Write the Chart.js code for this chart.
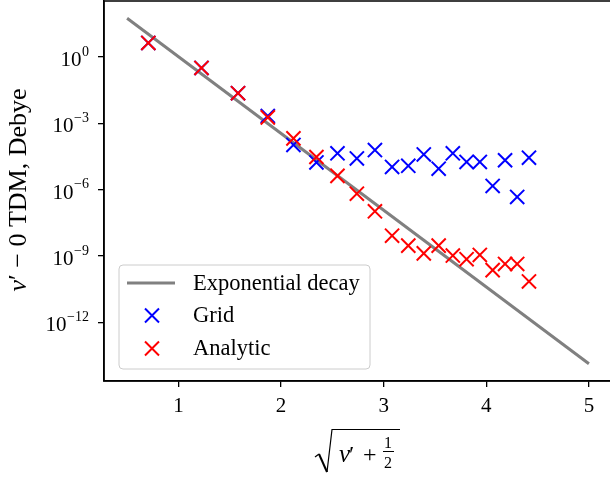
<!DOCTYPE html>
<html>
<head>
<meta charset="utf-8">
<script src="https://cdn.jsdelivr.net/npm/chart.js@4/dist/chart.umd.min.js"></script>
<style>
html,body{margin:0;padding:0;overflow:hidden;background:#fff;width:610px;height:479px}
#wrap{position:relative;width:614px;height:479px}
</style>
</head>
<body>
<div id="wrap"><canvas id="c" width="614" height="479"></canvas></div>
<script>
// sqrt(v' + 1/2) for v' = 0 .. 19
const xValues = [0.707, 1.225, 1.581, 1.871, 2.121, 2.345, 2.550, 2.739, 2.915, 3.082,
                 3.240, 3.391, 3.536, 3.674, 3.808, 3.937, 4.062, 4.183, 4.301, 4.416];
const gridValues = [4.3, 0.32, 0.023, 2.14e-3, 1.05e-4, 1.7e-5, 4.4e-5, 2.57e-5, 6.2e-5, 1.07e-5,
                    1.2e-5, 3.9e-5, 8.9e-6, 4.4e-5, 1.8e-5, 1.8e-5, 1.48e-6, 2.14e-5, 4.7e-7, 2.8e-5];
const analyticValues = [4.3, 0.32, 0.023, 1.86e-3, 2.09e-4, 3.0e-5, 4.2e-6, 6.6e-7, 1.05e-7, 8.3e-9,
                        2.95e-9, 1.32e-9, 2.95e-9, 1.05e-9, 7.2e-10, 1.12e-9, 2.3e-10, 4.4e-10, 4.4e-10, 7.1e-11];
const decayX = [0.5, 5.0];
const decayY = [56.2, 1.35e-14];
const xTicks = [1, 2, 3, 4, 5];
const yTicks = [1e0, 1e-3, 1e-6, 1e-9, 1e-12];
const yTickExponents = ['0', '\u22123', '\u22126', '\u22129', '\u221212'];
const seriesLabels = ['Exponential decay', 'Grid', 'Analytic'];

const serif = '"Liberation Serif", "Times New Roman", "DejaVu Serif", serif';

const overlay = {
  id: 'overlay',
  afterDraw(chart) {
    const ctx = chart.ctx, a = chart.chartArea, ys = chart.scales.y;
    ctx.save();
    // frame
    ctx.strokeStyle = '#000'; ctx.lineWidth = 1.5;
    ctx.strokeRect(a.left, a.top, a.right - a.left, a.bottom - a.top);

    // y tick labels 10^n
    ctx.fillStyle = '#000';
    ctx.textBaseline = 'middle';
    ys.ticks.forEach((t, i) => {
      const py = ys.getPixelForValue(t.value);
      const exp = yTickExponents[i];
      const right = 89;
      ctx.font = '14px ' + serif;
      const ew = ctx.measureText(exp).width;
      ctx.textAlign = 'left';
      ctx.fillText(exp, right - ew, py - 5);
      ctx.font = '21px ' + serif;
      ctx.textAlign = 'right';
      ctx.fillText('10', right - ew - 0.5, py + 3.5);
    });

    // y title
    ctx.save();
    ctx.translate(26, 190);
    ctx.rotate(-Math.PI / 2);
    ctx.textAlign = 'left'; ctx.textBaseline = 'alphabetic';
    const fs = 26;
    const parts = [['\u03bd', 'italic ' + fs + 'px '], ['\u2032', fs + 'px '], [' \u2212 0', fs + 'px '], [' TDM, Debye', fs + 'px ']];
    let W = 0;
    parts.forEach(p => { ctx.font = p[1] + serif; W += ctx.measureText(p[0]).width; });
    let x = -W / 2;
    parts.forEach(p => { ctx.font = p[1] + serif; ctx.fillText(p[0], x, 0); x += ctx.measureText(p[0]).width; });
    ctx.restore();

    // x title: sqrt(v' + 1/2)
    const cx = (a.left + a.right) / 2;
    const ox = cx - 359;
    ctx.strokeStyle = '#000';
    ctx.lineCap = 'butt';
    ctx.lineWidth = 1.2;
    ctx.beginPath(); ctx.moveTo(ox + 316, 457); ctx.lineTo(ox + 320, 454); ctx.stroke();
    ctx.lineWidth = 2;
    ctx.beginPath(); ctx.moveTo(ox + 320, 454); ctx.lineTo(ox + 328, 472); ctx.stroke();
    ctx.lineWidth = 1.2;
    ctx.beginPath(); ctx.moveTo(ox + 328, 472); ctx.lineTo(ox + 333, 429.5); ctx.lineTo(ox + 401, 429.5); ctx.stroke();
    ctx.textAlign = 'left'; ctx.textBaseline = 'alphabetic';
    ctx.font = 'italic 25px ' + serif;
    ctx.fillText('\u03bd', ox + 340, 462);
    let nx = ox + 340 + ctx.measureText('\u03bd').width;
    ctx.font = '24px ' + serif;
    ctx.fillText('\u2032', nx - 1, 462);
    ctx.fillText('+', ox + 364, 462);
    ctx.font = '16px ' + serif;
    ctx.textAlign = 'center';
    ctx.fillText('1', ox + 389, 448);
    ctx.fillText('2', ox + 389, 468);
    ctx.lineWidth = 1; ctx.beginPath(); ctx.moveTo(ox + 384, 451.5); ctx.lineTo(ox + 395, 451.5); ctx.stroke();

    // legend
    const lx = 119, ly = 265, lw = 251, lh = 104, r = 4;
    ctx.beginPath();
    ctx.moveTo(lx + r, ly); ctx.lineTo(lx + lw - r, ly); ctx.quadraticCurveTo(lx + lw, ly, lx + lw, ly + r);
    ctx.lineTo(lx + lw, ly + lh - r); ctx.quadraticCurveTo(lx + lw, ly + lh, lx + lw - r, ly + lh);
    ctx.lineTo(lx + r, ly + lh); ctx.quadraticCurveTo(lx, ly + lh, lx, ly + lh - r);
    ctx.lineTo(lx, ly + r); ctx.quadraticCurveTo(lx, ly, lx + r, ly);
    ctx.closePath();
    ctx.fillStyle = 'rgba(255,255,255,0.8)'; ctx.fill();
    ctx.strokeStyle = '#cccccc'; ctx.lineWidth = 1; ctx.stroke();
    const rowY = [283, 315.5, 348.5];
    const ds = chart.data.datasets;
    const byLabel = l => ds.find(d => d.label === l);
    seriesLabels.forEach((lab, i) => {
      const d = byLabel(lab), y = rowY[i];
      ctx.strokeStyle = d.borderColor; ctx.lineWidth = d.borderWidth;
      if (d.showLine) {
        ctx.beginPath(); ctx.moveTo(127, y); ctx.lineTo(175, y); ctx.stroke();
      } else {
        const h = 7;
        ctx.beginPath();
        ctx.moveTo(152 - h, y - h); ctx.lineTo(152 + h, y + h);
        ctx.moveTo(152 + h, y - h); ctx.lineTo(152 - h, y + h);
        ctx.stroke();
      }
      ctx.fillStyle = '#000'; ctx.font = '22.5px ' + serif;
      ctx.textAlign = 'left'; ctx.textBaseline = 'middle';
      ctx.fillText(lab, 193, y + 1);
    });
    ctx.restore();
  }
};

new Chart(document.getElementById('c'), {
  type: 'scatter',
  data: {
    datasets: [
      {
        label: seriesLabels[2],
        data: xValues.map((x, i) => ({ x: x, y: analyticValues[i] })),
        pointStyle: 'crossRot', pointRadius: 10, pointHoverRadius: 10,
        borderColor: '#ff0000', backgroundColor: '#ff0000', borderWidth: 2, order: 1
      },
      {
        label: seriesLabels[1],
        data: xValues.map((x, i) => ({ x: x, y: gridValues[i] })),
        pointStyle: 'crossRot', pointRadius: 10, pointHoverRadius: 10,
        borderColor: '#0000ff', backgroundColor: '#0000ff', borderWidth: 2, order: 2
      },
      {
        label: seriesLabels[0],
        data: decayX.map((x, i) => ({ x: x, y: decayY[i] })),
        showLine: true, pointRadius: 0, borderColor: '#808080', backgroundColor: '#808080',
        borderWidth: 3, fill: false, order: 3
      }
    ]
  },
  options: {
    responsive: false, animation: false, devicePixelRatio: 1,
    layout: { autoPadding: false, padding: { top: 1, right: 2, left: 0, bottom: 0 } },
    plugins: { legend: { display: false }, tooltip: { enabled: false } },
    scales: {
      x: {
        type: 'linear', min: 0.275, max: 5.225,
        afterBuildTicks: s => { s.ticks = xTicks.map(v => ({ value: v })); },
        afterFit: s => { s.height = 98; s.paddingLeft = 0; s.paddingRight = 0; s.paddingTop = 0; s.paddingBottom = 0; },
        grid: { display: true, drawOnChartArea: false, drawTicks: true, tickLength: 6, color: '#000', lineWidth: 1.3 },
        border: { display: true, color: '#000', width: 1.5 },
        ticks: { font: { family: serif, size: 21 }, color: '#000', padding: 7, maxRotation: 0, autoSkip: false,
                 callback: v => String(v) }
      },
      y: {
        type: 'logarithmic', min: Math.pow(10, -14.65), max: Math.pow(10, 2.53),
        afterBuildTicks: s => { s.ticks = yTicks.map(v => ({ value: v })); },
        afterFit: s => { s.width = 104; s.paddingLeft = 0; s.paddingRight = 0; s.paddingTop = 0; s.paddingBottom = 0; },
        grid: { display: true, drawOnChartArea: false, drawTicks: true, tickLength: 6, color: '#000', lineWidth: 1.3 },
        border: { display: true, color: '#000', width: 1.5 },
        ticks: { display: false }
      }
    }
  },
  plugins: [overlay]
});
</script>
</body>
</html>
